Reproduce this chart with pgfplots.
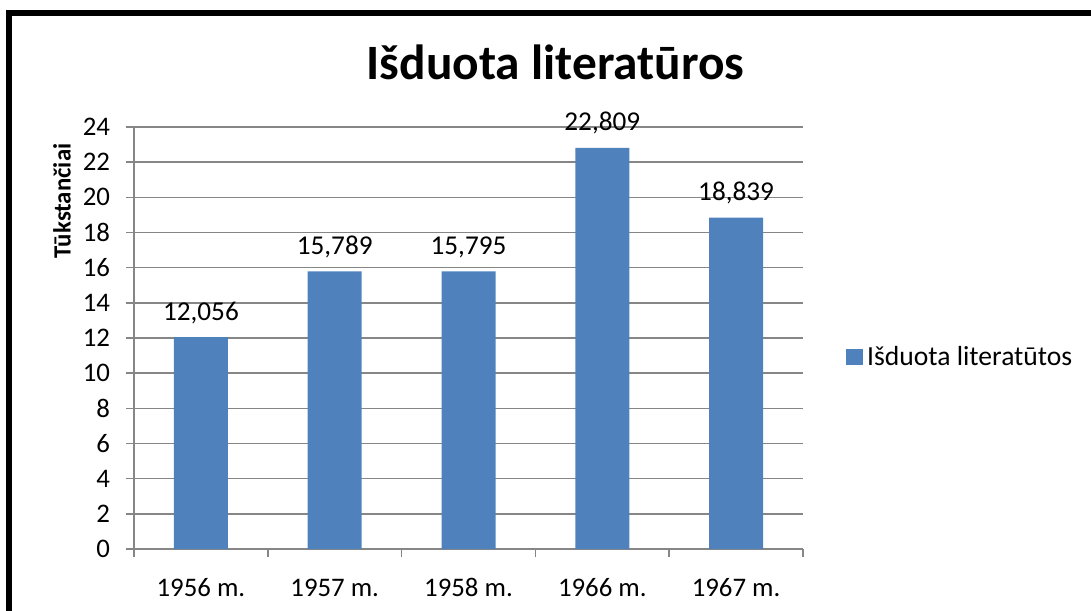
\documentclass[border=0pt]{standalone}
\usepackage{pgfplots}
\pgfplotsset{compat=1.18}
\usepackage{pgfplotstable}
\usepackage{fontspec}
\setmainfont{Carlito}
\definecolor{barblue}{HTML}{4F81BD}
\definecolor{gridgray}{HTML}{868686}
\pgfplotstableread{
x y lab
0 12.056 {12,056}
1 15.789 {15,789}
2 15.795 {15,795}
3 22.809 {22,809}
4 18.839 {18,839}
}\datatable
\begin{document}
\begin{tikzpicture}[x=1pt,y=1pt]
\useasboundingbox (0,0) rectangle (545.5,305);
\clip (0,0) rectangle (545.5,305);
\draw[line width=3pt] (4.5,-20) rectangle (600,298.5);
\begin{axis}[
  at={(67pt,30.5pt)}, anchor=south west,
  width=334.5pt, height=211pt, scale only axis,
  xmin=-0.5, xmax=4.5, ymin=0, ymax=24,
  ytick={0,2,...,24},
  xtick={-0.5,0.5,...,4.5}, xticklabels={},
  extra x ticks={0,1,2,3,4},
  extra x tick labels={1956 m.,1957 m.,1958 m.,1966 m.,1967 m.},
  extra x tick style={major tick length=0pt, xticklabel style={anchor=base, yshift=-23.5pt}},
  axis x line*=bottom, axis y line*=left,
  axis line style={gridgray, line width=0.75pt},
  tick style={gridgray, line width=0.75pt},
  tick align=outside, major tick length=4pt,
  ymajorgrids, grid style={gridgray, line width=0.75pt},
  /pgf/number format/assume math mode=true,
  tick label style={font=\fontsize{13.4}{16}\selectfont, black},
  yticklabel style={anchor=east, xshift=-4.5pt},
  ylabel={Tūkstančiai},
  ylabel style={at={(-0.1076,0.825)}, anchor=center, font=\fontsize{12.4}{15}\selectfont\bfseries},
  title={Išduota literatūros},
  title style={at={(0.630,1.083)}, anchor=base, font=\fontsize{24.7}{29}\selectfont\bfseries},
  legend style={draw=none, fill=none, at={(1.064,0.455)}, anchor=west, inner sep=0pt, font=\fontsize{13.8}{16}\selectfont},
  legend image code/.code={\fill[#1] (0pt,-4pt) rectangle (8.5pt,4pt);},
]
\addplot[ybar, bar width=27pt, fill=barblue, draw=none,
  nodes near coords, point meta=explicit symbolic,
  every node near coord/.append style={anchor=base, yshift=8.5pt, black, font=\fontsize{13.6}{16}\selectfont}]
  table[x=x, y=y, meta=lab] {\datatable};
\addlegendentry{Išduota literatūtos}
\end{axis}
\end{tikzpicture}
\end{document}
